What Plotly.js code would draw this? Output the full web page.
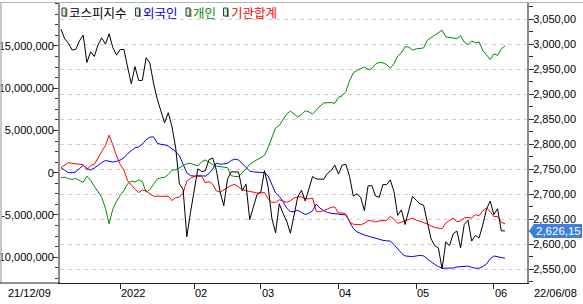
<!DOCTYPE html>
<html><head><meta charset="utf-8">
<script src="https://cdn.plot.ly/plotly-3.0.1.min.js"></script>
<style>html,body{margin:0;padding:0;background:#fff;overflow:hidden}#chart{width:583px;height:304px}</style>
</head><body><div id="chart"></div>
<script>
// ---- data ----
const dates = [
'21/12/09','21/12/10','21/12/13','21/12/14','21/12/15','21/12/16','21/12/17','21/12/20','21/12/21','21/12/22','21/12/23','21/12/24','21/12/27','21/12/28','21/12/29','21/12/30',
'22/01/03','22/01/04','22/01/05','22/01/06','22/01/07','22/01/10','22/01/11','22/01/12','22/01/13','22/01/14','22/01/17','22/01/18','22/01/19','22/01/20','22/01/21','22/01/24','22/01/25','22/01/26','22/01/27','22/01/28',
'22/02/03','22/02/04','22/02/07','22/02/08','22/02/09','22/02/10','22/02/11','22/02/14','22/02/15','22/02/16','22/02/17','22/02/18','22/02/21','22/02/22','22/02/23','22/02/24','22/02/25','22/02/28',
'22/03/02','22/03/03','22/03/04','22/03/07','22/03/08','22/03/10','22/03/11','22/03/14','22/03/15','22/03/16','22/03/17','22/03/18','22/03/21','22/03/22','22/03/23','22/03/24','22/03/25','22/03/28','22/03/29','22/03/30','22/03/31',
'22/04/01','22/04/04','22/04/05','22/04/06','22/04/07','22/04/08','22/04/11','22/04/12','22/04/13','22/04/14','22/04/15','22/04/18','22/04/19','22/04/20','22/04/21','22/04/22','22/04/25','22/04/26','22/04/27','22/04/28','22/04/29',
'22/05/02','22/05/03','22/05/04','22/05/06','22/05/09','22/05/10','22/05/11','22/05/12','22/05/13','22/05/16','22/05/17','22/05/18','22/05/19','22/05/20','22/05/23','22/05/24','22/05/25','22/05/26','22/05/27','22/05/30','22/05/31',
'22/06/02','22/06/03','22/06/07','22/06/08'];

const kospi = [
3029.57,3010.23,3001.66,2987.95,2989.39,3006.41,3017.73,2963.00,2984.48,2975.03,
2998.17,3012.43,2999.55,3020.24,2993.29,2977.65,2988.77,2989.24,2953.97,2920.53,
2954.89,2926.72,2927.38,2972.48,2962.09,2921.92,2890.10,2864.24,2842.28,2862.68,
2834.29,2792.00,2720.39,2709.24,2614.49,2663.34,2707.82,2750.26,2745.06,2746.47,
2768.85,2771.93,2747.71,2704.48,2676.54,2729.68,2744.52,2744.09,2743.80,2706.79,
2719.53,2648.80,2676.76,2699.18,2703.52,2747.08,2713.43,2651.31,2622.40,2680.32,
2661.28,2645.65,2621.53,2659.23,2694.51,2707.49,2686.05,2710.00,2735.03,2729.98,
2729.66,2729.56,2741.07,2746.74,2757.65,2739.85,2757.90,2759.20,2735.05,2695.86,
2700.39,2693.10,2666.76,2716.49,2716.71,2696.06,2693.21,2718.89,2718.69,2728.21,
2704.71,2657.13,2668.31,2639.06,2667.49,2695.05,2687.45,2680.46,2677.57,2644.51,
2610.81,2596.56,2592.27,2550.08,2604.24,2596.58,2620.44,2625.98,2592.34,2639.29,
2647.38,2605.87,2617.22,2612.45,2638.05,2669.66,2685.90,2658.99,2670.65,2626.34,
2626.15];

// cumulative net buying, in millions of the left-axis unit
const foreign = [
0.6,0.3,0.0,0.0,0.1,0.5,0.85,0.5,0.3,0.55,
0.9,1.2,1.45,1.4,1.26,1.35,1.5,1.75,2.25,2.6,
2.95,3.05,3.4,3.9,4.2,4.25,3.5,3.35,3.3,3.15,
2.85,2.5,2.0,1.0,0.0,-0.35,-0.4,-0.35,-0.35,-0.4,
-0.1,0.45,1.15,1.0,1.05,1.1,1.45,1.6,1.5,1.1,
0.6,0.2,0.1,0.07,0.05,0.0,-0.4,-1.3,-2.4,-2.8,
-3.4,-4.2,-4.6,-4.6,-4.45,-4.7,-4.95,-4.8,-4.5,-3.7,
-4.2,-4.5,-4.7,-4.8,-4.85,-4.9,-4.97,-5.0,-5.8,-6.6,
-7.0,-7.2,-7.38,-7.5,-7.62,-7.8,-7.95,-8.0,-8.05,-8.1,
-8.5,-9.0,-9.5,-9.85,-9.93,-9.93,-9.85,-9.78,-9.85,-10.2,
-10.55,-10.85,-11.1,-11.3,-11.3,-11.3,-11.28,-11.15,-11.1,-11.05,
-11.05,-11.2,-11.3,-11.3,-11.1,-10.8,-10.2,-9.85,-9.92,-10.0,
-10.12];

const individual = [
-0.6,-0.52,-0.7,-0.8,-0.68,-0.9,-1.15,-0.4,-0.9,-1.6,
-2.3,-2.9,-4.2,-6.04,-4.3,-3.38,-2.7,-2.1,-1.3,-1.0,
-1.1,-0.85,-1.05,-2.3,-2.0,-1.3,-0.75,-0.6,-0.55,-0.2,
0.3,0.35,0.6,0.9,1.05,1.1,0.95,0.8,1.3,1.5,
1.25,0.95,0.78,0.72,0.65,0.6,-0.35,-0.45,-0.45,-0.05,
0.45,1.0,1.3,1.55,1.75,2.06,3.0,4.2,5.3,5.6,
6.3,6.94,7.3,6.95,6.6,6.9,7.33,7.2,6.95,7.4,
7.9,8.25,8.3,8.3,8.2,8.93,9.1,9.6,10.9,11.8,
12.1,12.3,12.5,12.2,12.3,12.85,13.05,13.0,12.8,12.35,
12.9,13.8,14.2,14.9,14.88,14.5,14.65,14.7,14.76,15.67,
15.95,16.25,16.6,16.86,16.07,16.0,15.93,15.87,16.2,15.45,
15.15,15.6,15.36,15.48,14.48,13.9,13.4,14.08,13.88,14.65,
15.0];

const institution = [
0.6,0.87,1.2,1.1,1.05,1.0,0.95,0.35,0.85,0.99,
1.67,2.5,3.2,4.44,3.3,2.0,1.0,0.3,-0.95,-1.5,
-1.95,-2.35,-2.05,-2.15,-2.5,-2.78,-2.79,-2.79,-2.85,-2.79,
-3.3,-2.95,-2.9,-2.4,-1.0,-0.65,-0.45,-0.4,-0.4,-1.19,
-1.05,-1.35,-2.15,-2.3,-2.05,-1.7,-1.5,-1.39,-1.7,-2.0,
-2.12,-2.19,-2.3,-2.4,-2.38,-2.35,-3.1,-3.5,-3.5,-3.2,
-3.35,-3.5,-3.3,-3.0,-2.86,-2.86,-3.05,-3.1,-3.0,-4.6,
-4.63,-4.5,-4.3,-4.1,-4.05,-4.76,-4.76,-4.9,-5.8,-6.1,
-6.15,-6.15,-6.0,-5.65,-5.7,-5.83,-5.7,-5.66,-5.64,-5.17,
-5.5,-6.0,-5.85,-5.7,-5.56,-5.36,-5.6,-5.75,-5.88,-6.05,
-6.3,-6.48,-6.55,-6.63,-5.95,-5.7,-5.36,-5.8,-5.7,-5.35,
-5.3,-5.36,-4.96,-5.08,-4.5,-4.17,-4.6,-5.2,-5.17,-5.88,
-6.04];

const seriesNames  = ['코스피지수','외국인','개인','기관합계'];
const seriesColors = ['#000000','#0000ff','#008c00','#ff0000'];

const xTickDates = ['22/01/03','22/02/03','22/03/02','22/04/01','22/05/02','22/06/02'];
const xTickText  = ['2022','02','03','04','05','06'];
const firstDateLabel = '21/12/09';
const lastDateLabel  = '22/06/08';

const leftTickVals = [-10000000,-5000000,0,5000000,10000000,15000000];
const leftTickText = ['-10,000,000','-5,000,000','0','5,000,000','10,000,000','15,000,000'];
const rightTickVals = [2550,2600,2650,2700,2750,2800,2850,2900,2950,3000,3050];
const rightTickText = ['2,550,00','2,600,00','2,650,00','2,700,00','2,750,00','2,800,00','2,850,00','2,900,00','2,950,00','3,000,00','3,050,00'];

// ---- layout helpers (pixel -> paper) ----
const PL=60, PR=527, PT=3, PB=283;
const px = x => (x-PL)/(PR-PL);
const py = y => (PB-y)/(PB-PT);
const tickFont = {family:'Liberation Sans, Arial, sans-serif', size:11, color:'#000'};
const idx = d => dates.indexOf(d);

const scale = a => a.map(v => v*1e6);

const traces = [
  {x:dates, y:kospi, yaxis:'y2', name:seriesNames[0], type:'scatter', mode:'lines', line:{color:seriesColors[0], width:1}},
  {x:dates, y:scale(foreign), name:seriesNames[1], type:'scatter', mode:'lines', line:{color:seriesColors[1], width:1}},
  {x:dates, y:scale(individual), name:seriesNames[2], type:'scatter', mode:'lines', line:{color:seriesColors[2], width:1}},
  {x:dates, y:scale(institution), name:seriesNames[3], type:'scatter', mode:'lines', line:{color:seriesColors[3], width:1}}
];

const annotations = [];
const shapes = [];

// x-axis labels, left-aligned right of tick
xTickDates.forEach((d,i)=>{
  annotations.push({xref:'x', x:idx(d), xanchor:'left', xshift:-1, yref:'paper', y:0, yanchor:'middle', yshift:-10,
    text:xTickText[i], showarrow:false, font:tickFont});
});
annotations.push({xref:'paper', x:0, xanchor:'right', xshift:-7, yref:'paper', y:0, yanchor:'middle', yshift:-10,
  text:firstDateLabel, showarrow:false, font:tickFont});
annotations.push({xref:'paper', x:1, xanchor:'left', xshift:5, yref:'paper', y:0, yanchor:'middle', yshift:-10,
  text:lastDateLabel, showarrow:false, font:tickFont});

// legend
const legendTextX = [69, 142.5, 192.5, 231];
const legendIconX = [62, 135.5, 186, 223.5];
seriesNames.forEach((n,i)=>{
  annotations.push({xref:'paper', x:px(legendTextX[i]-2), xanchor:'left', yref:'paper', y:py(12.5), yanchor:'middle',
    text:n, showarrow:false, font:{family:'Noto Sans CJK KR, sans-serif', size:12.5, color:seriesColors[i]}});
  const ix = legendIconX[i];
  shapes.push({type:'rect', xref:'paper', yref:'paper', x0:px(ix+2), x1:px(ix+5.5), y0:py(9), y1:py(17),
    fillcolor:'#8e8e8e', line:{width:0}});
  shapes.push({type:'rect', xref:'paper', yref:'paper', x0:px(ix), x1:px(ix+4), y0:py(8), y1:py(16),
    fillcolor:'#c6f2c6', line:{color:'#3a3a3a', width:1}});
});

// frame lines
shapes.push({type:'line', xref:'paper', yref:'paper', x0:px(0), x1:px(583), y0:py(2.5), y1:py(2.5), line:{color:'#b4b4b4', width:1}});
shapes.push({type:'line', xref:'paper', yref:'paper', x0:px(1), x1:px(1), y0:py(2.5), y1:py(PB), line:{color:'#b4b4b4', width:1.5}});
shapes.push({type:'line', xref:'paper', yref:'paper', x0:px(0), x1:px(PL), y0:0, y1:0, line:{color:'#202020', width:1}});

// last-value marker
const lastVal = kospi[kospi.length-1];
shapes.push({type:'path', xref:'paper', yref:'y2', xsizemode:'pixel', ysizemode:'pixel', xanchor:1, yanchor:lastVal,
  path:'M2,0 L7,-7 L55,-7 L55,7 L7,7 Z', fillcolor:'#3d7fe0', line:{width:0}});
const lastText = lastVal.toFixed(2).replace('.', ',').replace(/\B(?=(\d{3})+(?!\d))/, ',');
annotations.push({xref:'paper', x:1, xanchor:'center', xshift:31, yref:'y2', y:lastVal, yanchor:'middle',
  text:lastText, showarrow:false, font:{family:'Liberation Sans, Arial, sans-serif', size:11.5, color:'#ffffff'}});

const layout = {
  width:583, height:304,
  margin:{l:PL, r:583-PR, t:PT, b:304-PB, pad:0},
  paper_bgcolor:'#ffffff', plot_bgcolor:'#ffffff',
  showlegend:false,
  xaxis:{type:'category', range:[-0.27,125.95], showgrid:false, zeroline:false,
    showline:true, linecolor:'#202020', linewidth:1,
    ticks:'outside', ticklen:5, tickcolor:'#202020', tickvals:xTickDates, showticklabels:false, fixedrange:true},
  yaxis:{range:[-13050000,20080000], showgrid:false, zeroline:false,
    showline:true, linecolor:'#8a8a8a', linewidth:2,
    ticks:'outside', ticklen:5, tickcolor:'#303030', tickwidth:1, ticklabelstandoff:-3,
    tickmode:'array', tickvals:leftTickVals, ticktext:leftTickText, tickfont:tickFont,
    minor:{tickmode:'linear', tick0:0, dtick:1250000, ticks:'outside', ticklen:3, tickcolor:'#303030', showgrid:false},
    fixedrange:true},
  yaxis2:{overlaying:'y', side:'right', range:[2522,3082], zeroline:false,
    showgrid:true, gridcolor:'#d0d0d0', gridwidth:1, griddash:'4px,4px',
    showline:true, linecolor:'#8a8a8a', linewidth:2,
    ticks:'outside', ticklen:5, tickcolor:'#303030', tickwidth:1, ticklabelstandoff:-3,
    tickmode:'array', tickvals:rightTickVals, ticktext:rightTickText, tickfont:tickFont,
    minor:{tickmode:'linear', tick0:2525, dtick:50, ticks:'outside', ticklen:4, tickcolor:'#303030', showgrid:false},
    fixedrange:true},
  annotations:annotations,
  shapes:shapes
};

Plotly.newPlot('chart', traces, layout, {staticPlot:true, displayModeBar:false});
</script></body></html>
